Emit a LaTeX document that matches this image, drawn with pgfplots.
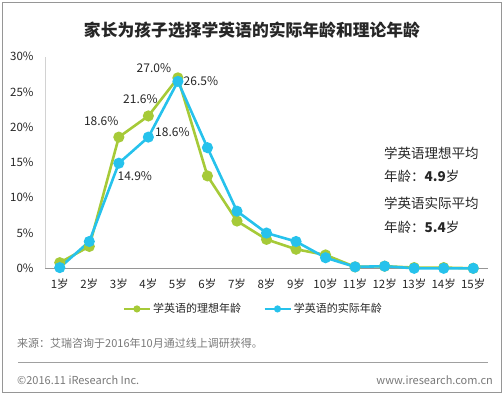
\documentclass[border=0pt]{standalone}
\usepackage{fontspec}
\setmainfont{Noto Sans CJK SC}
\usepackage{pgfplots}
\pgfplotsset{compat=1.18}
\definecolor{cgreen}{RGB}{166,202,56}
\definecolor{cblue}{RGB}{38,194,236}
\definecolor{ctxt}{RGB}{38,38,38}
\definecolor{cgray}{RGB}{120,120,120}
\begin{document}
\begin{tikzpicture}[x=1bp,y=1bp]
\useasboundingbox (0,0) rectangle (503,398);
\draw[color={rgb,255:red,150;green,150;blue,150},line width=1bp] (2,395) rectangle (501.5,6);
\node[font=\fontsize{16.8bp}{20bp}\selectfont\bfseries,text=ctxt] at (252,368) {家长为孩子选择学英语的实际年龄和理论年龄};
\begin{axis}[
  at={(45bp,129.7bp)}, anchor=south west,
  scale only axis, width=443bp, height=211.6bp,
  xmin=0.5, xmax=15.5, ymin=0, ymax=30,
  clip=false,
  axis lines*=left,
  x axis line style={color={rgb,255:red,150;green,150;blue,150},line width=0.8bp},
  y axis line style={color={rgb,255:red,210;green,210;blue,210},line width=0.8bp},
  major tick length=0pt,
  xtick={1,...,15},
  xticklabels={1岁,2岁,3岁,4岁,5岁,6岁,7岁,8岁,9岁,10岁,11岁,12岁,13岁,14岁,15岁},
  ytick={0,5,10,15,20,25,30},
  yticklabels={0\%,5\%,10\%,15\%,20\%,25\%,30\%},
  /pgf/number format/assume math mode=true,
  tick label style={font=\fontsize{11.5bp}{13bp}\selectfont, text=ctxt},
  xticklabel style={yshift=-7bp},
  yticklabel style={xshift=-8bp},
  legend style={at={(0.47,-0.192)}, anchor=center, draw=none, fill=none,
    legend columns=2, font=\fontsize{11bp}{13bp}\selectfont, text=ctxt,
    /tikz/every even column/.append style={column sep=20bp}},
  legend image code/.code={
    \draw[#1,mark=none] (0bp,0bp) -- (26bp,0bp);
    \draw[#1,mark size=2.2bp] plot coordinates {(13bp,0bp)};
  },
]
\addplot[color=cgreen, line width=2.6bp, mark=*, mark size=4.2bp, mark options={fill=cgreen, draw=cgreen}]
 coordinates {(1,0.8) (2,3.1) (3,18.6) (4,21.6) (5,27.0) (6,13.1) (7,6.7) (8,4.1) (9,2.7) (10,1.9) (11,0.2) (12,0.3) (13,0.1) (14,0.1) (15,0.0)};
\addlegendentry{学英语的理想年龄}
\addplot[color=cblue, line width=2.6bp, mark=*, mark size=4.2bp, mark options={fill=cblue, draw=cblue}]
 coordinates {(1,0.1) (2,3.8) (3,14.9) (4,18.6) (5,26.5) (6,17.1) (7,8.1) (8,5.0) (9,3.8) (10,1.5) (11,0.2) (12,0.3) (13,0.0) (14,0.0) (15,0.0)};
\addlegendentry{学英语的实际年龄}
\begin{scope}[every node/.style={font=\fontsize{12bp}{14bp}\selectfont, text=ctxt}]
\node[xshift=-24bp,yshift=10.2bp] at (axis cs:5,27.0) {27.0\%};
\node[xshift=23bp,yshift=0bp] at (axis cs:5,26.5) {26.5\%};
\node[xshift=-8bp,yshift=17bp] at (axis cs:4,21.6) {21.6\%};
\node[xshift=-17.6bp,yshift=16bp] at (axis cs:3,18.6) {18.6\%};
\node[xshift=24bp,yshift=5bp] at (axis cs:4,18.6) {18.6\%};
\node[xshift=16bp,yshift=-13bp] at (axis cs:3,14.9) {14.9\%};
\end{scope}
\end{axis}
\begin{scope}[every node/.style={font=\fontsize{13.5bp}{15bp}\selectfont, text=ctxt, anchor=west, inner sep=0pt}]
\node at (384,245) {学英语理想平均};
\node at (384,221.3) {年龄：\textbf{4.9}岁};
\node at (384,195) {学英语实际平均};
\node at (384,170.3) {年龄：\textbf{5.4}岁};
\end{scope}
\node[anchor=west, inner sep=0pt, font=\fontsize{11bp}{13bp}\selectfont, text=cgray] at (17,55) {来源：艾瑞咨询于2016年10月通过线上调研获得。};
\draw[color={rgb,255:red,160;green,160;blue,160}, line width=0.8bp] (18,36) -- (488,36);
\node[anchor=west, inner sep=0pt, font=\fontsize{11bp}{13bp}\selectfont, text=cgray] at (17,18) {©2016.11 iResearch Inc.};
\node[anchor=east, inner sep=0pt, font=\fontsize{11bp}{13bp}\selectfont, text=cgray] at (493,18) {www.iresearch.com.cn};
\end{tikzpicture}
\end{document}
